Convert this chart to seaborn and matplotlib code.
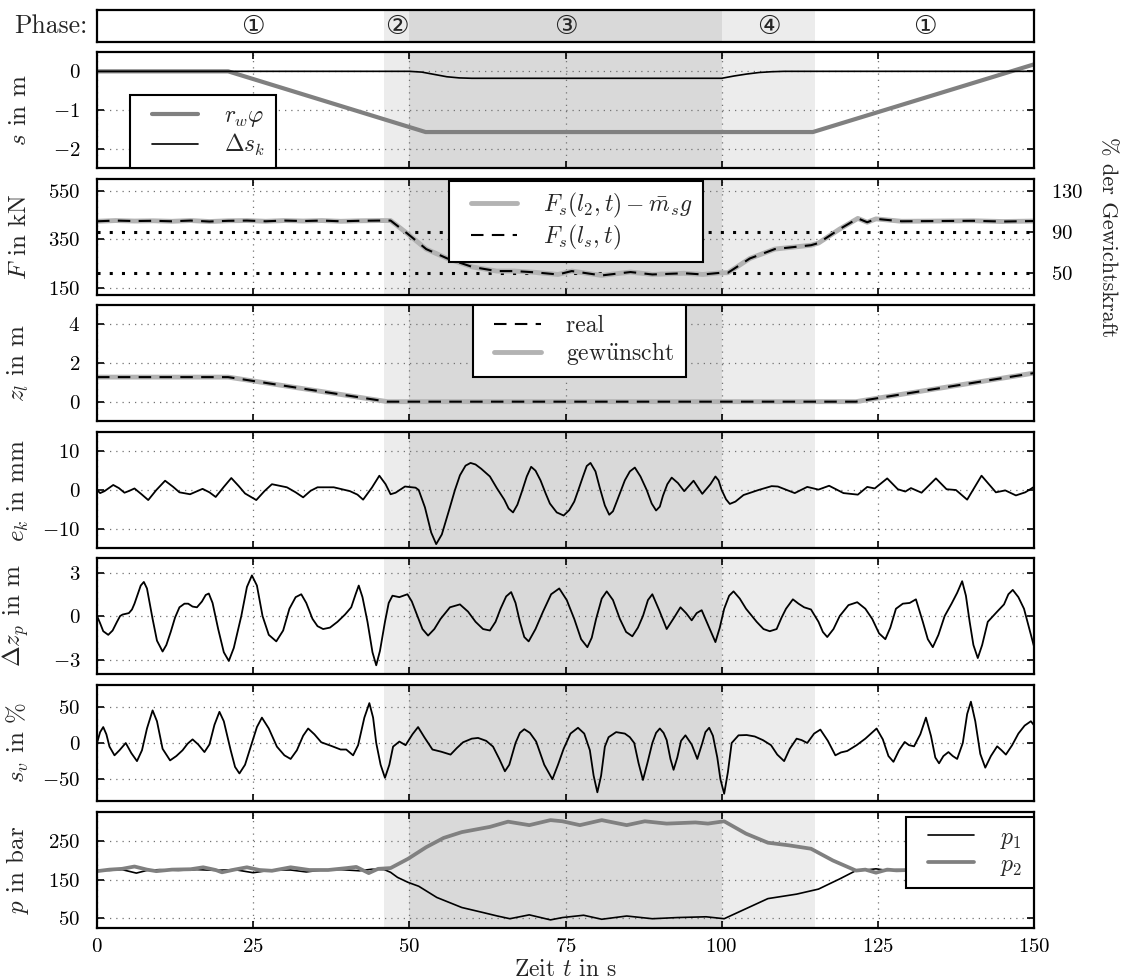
import numpy as np
import matplotlib
matplotlib.use('Agg')
import matplotlib.pyplot as plt
import seaborn as sns
from matplotlib.lines import Line2D
from matplotlib.legend_handler import HandlerLine2D

# ── DATA ────────────────────────────────────────────────────────────────────
phase_bounds = [0, 46, 50, 100, 115, 150]
phase_shades = ['white', '#ececec', '#d9d9d9', '#ececec', 'white']
phase_labels = ['①', '②', '③', '④', '①']
phase_label_t = [25, 48, 75, 107.5, 132.5]

# s panel
rw_t = [0, 21, 52.6, 114.6, 150]
rw_v = [0, 0, -1.57, -1.57, 0.18]
dsk_t = [0, 50, 52, 54, 56, 58, 60, 100, 102, 104, 106, 108, 110, 150]
dsk_v = [0, 0, -0.02, -0.08, -0.14, -0.17, -0.18, -0.18, -0.12, -0.07, -0.03, -0.01, 0, 0]

# F panel
F_t = [0, 3, 6, 9, 12, 15, 18, 21, 24, 27, 30, 33, 36, 39, 42, 45, 47, 49.8, 52.7, 56.1,
       60.1, 64, 66.8, 70, 73.8, 76, 80.8, 85.4, 88.9, 94, 97, 99.9, 101, 104.5, 108.5,
       114.3, 115.5, 118.9, 121.8, 123.3, 124.7, 128.8, 134.5, 140.3, 145, 150]
F_v = [425, 428, 426, 427, 425, 428, 424, 427, 428, 425, 428, 426, 428, 425, 427, 428, 428,
       372, 310, 271, 236, 219, 219, 214, 205, 219, 201, 215, 205, 210, 205, 212, 212, 271,
       310, 326, 335, 393, 437, 421, 435, 425, 426, 427, 424, 426]
W = 423.0                 # weight force in kN (100 %)
weight_levels = [90, 50]  # dotted reference levels in %

# z_l panel
z_t = [0, 21, 46.5, 121.5, 150]
z_v = [1.27, 1.27, 0, 0, 1.48]

# e_k panel
ek_t = [0, 0.5, 1.2, 2.6, 3.5, 4.4, 5.2, 6.0, 7.2, 8.2, 9.5, 10.9, 12.2, 13.2, 14.9, 16.9,
        18.0, 19.0, 20.3, 21.5, 22.7, 23.7, 25.5, 26.8, 28.0, 30.4, 31.8, 33.0, 34.2, 35.3,
        37.9, 40.5, 41.7, 42.6, 44.0, 45.2, 46.2, 47.0, 47.8, 49.3, 51.0, 51.5, 52.5, 53.5,
        54.3, 55.2, 56.4, 57.3, 58.1, 59.0, 59.8, 60.6, 61.5, 62.9, 64.0, 65.2, 65.9, 66.6,
        67.3, 68.0, 68.8, 69.5, 70.2, 71.0, 71.8, 72.5, 73.6, 74.7, 75.6, 76.4, 77.1, 77.8,
        78.4, 79.0, 79.8, 80.5, 81.3, 82.0, 82.6, 83.2, 84.5, 85.3, 86.1, 87.0, 88.0, 88.8,
        89.5, 90.1, 90.6, 91.3, 92.0, 93.0, 94.0, 95.5, 96.9, 98.2, 99.0, 99.5, 100.0, 100.7,
        101.3, 102.2, 103.5, 105.9, 108.0, 109.0, 111.7, 113.7, 115.5, 117.2,
        119.5, 121.8, 123.3, 124.5, 126.5, 128.2, 129.4, 130.3, 132.0, 134.3, 136.0, 137.5,
        139.3, 141.6, 143.9, 145.4, 147.1, 148.6, 150]
ek_v = [0.0, -0.8, -0.3, 1.3, 0.5, -0.7, -0.2, 0.4, -1.2, -2.6, 0.0, 2.4, 0.8, -0.6, -1.1, 0.3,
        -0.6, -1.8, 0.8, 3.1, 1.0, -0.9, -2.6, -0.3, 1.5, 0.7, -0.6, -1.9, -0.2, 0.7,
        0.7, -0.3, -1.2, -2.5, 0.6, 3.7, 1.5, -1.1, -0.7, 0.9, 0.6, 0.0, -4.5, -11.0,
        -14.0, -11.5, -5.0, 0.0, 3.8, 6.3, 7.0, 6.6, 5.5, 3.5, 0.5, -2.5, -4.8, -5.8,
        -3.8, -0.5, 3.5, 6.0, 5.0, 2.5, -0.8, -3.5, -5.8, -6.6, -5.2, -3.0, 0.2, 3.5,
        6.2, 7.0, 4.8, 0.5, -4.0, -6.4, -5.5, -3.0, 2.5, 4.8, 5.8, 3.5, 0.0, -3.5,
        -5.3, -4.3, -1.5, 1.5, 3.2, 1.8, -0.3, 2.4, -1.0, 1.5, 3.5, 2.5, 0.0, -2.4,
        -3.6, -3.0, -1.3, 0.0, 1.0, 0.9, -0.8, 0.8, 0.1, 1.1,
        -0.8, -1.2, 0.8, 0.4, 3.0, 0.2, -0.4, 0.5, -0.7, 3.0, 0.2, 0.0,
        -2.5, 3.7, -0.6, -0.1, -1.4, -0.6, 0.8]

# delta z_p panel
dzp_t = [0, 0.5, 1.0, 1.8, 2.5, 3.2, 3.7, 4.1, 5.1, 5.6, 6.0, 6.6, 7.0, 7.5, 8.0, 8.9, 9.6,
         10.5, 11.1, 11.8, 12.5, 13.2, 14.0, 14.6, 15.3, 16.0, 16.8, 17.4, 17.9, 18.5, 19.4,
         20.3, 21.1, 21.9, 23.1, 24.0, 24.8, 25.6, 26.5, 27.5, 28.7, 29.8, 30.8, 31.8, 32.7,
         33.5, 34.5, 35.3, 36.2, 37.3, 38.5, 39.7, 40.7, 41.4, 41.9, 42.5, 43.3, 44.1, 44.7,
         45.3, 46.1, 46.7, 47.3, 48.4, 49.7, 50.4, 51.3, 52.1, 53.0, 54.0, 55.0, 56.5, 58.1,
         59.4, 60.6, 61.8, 62.9, 63.8, 64.6, 65.5, 66.3, 67.0, 67.7, 68.4, 69.1, 70.2, 71.4,
         72.7, 74.0, 75.2, 76.4, 77.5, 78.5, 79.2, 79.9, 80.8, 81.6, 82.6, 83.7, 84.7, 85.7,
         86.6, 87.4, 88.2, 88.9, 90.0, 91.2, 92.4, 93.4, 94.3, 95.2, 96.0, 96.8, 97.9, 99.0,
         99.7, 100.4, 101.2, 101.9, 102.9, 103.9, 105.6, 106.7, 107.7, 108.8, 109.6, 110.3,
         111.4, 112.3, 113.2, 114.3, 115.5, 116.2, 116.9, 117.9, 118.9, 120.3, 121.7, 123.0,
         124.1, 125.2, 126.2, 127.0, 127.9, 129.0, 130.1, 131.1, 132.2, 133.0, 133.8, 134.7,
         135.7, 136.8, 137.7, 138.5, 139.1, 139.7, 140.3, 141.0, 141.7, 142.6, 144.1, 145.2,
         145.9, 146.6, 147.5, 148.4, 149.2, 150]
dzp_v = [0.0, -0.5, -1.05, -1.3, -1.0, -0.4, 0.0, 0.1, 0.2, 0.45, 0.85, 1.6, 2.1, 2.35, 1.9,
         -0.2, -1.7, -2.45, -2.0, -1.1, -0.1, 0.6, 0.85, 0.85, 0.65, 0.6, 1.0, 1.45, 1.55, 0.9,
         -0.9, -2.5, -3.1, -2.2, 0.0, 2.0, 2.8, 2.1, 0.0, -1.3, -1.75, -1.0, 0.5, 1.3, 1.5,
         0.9, -0.2, -0.7, -0.9, -0.8, -0.4, 0.1, 0.6, 1.5, 2.1, 1.3, -0.4, -2.5, -3.4,
         -2.4, -0.4, 0.9, 1.4, 1.3, 1.5, 1.0, 0.0, -0.9, -1.35, -0.9, -0.2, 0.6, 0.8,
         0.3, -0.4, -0.9, -1.0, -0.4, 0.5, 1.35, 1.65, 0.9, -0.4, -1.45, -1.75, -0.9, 0.3,
         1.5, 1.9, 1.1, -0.2, -1.6, -2.15, -1.5, -0.2, 1.2, 1.7, 1.1, -0.2, -1.1, -1.4,
         -0.8, 0.0, 1.1, 1.5, 0.4, -0.9, -0.1, 0.6, 0.2, -0.3, 0.2, 0.4, -0.7, -1.8,
         -0.8, 0.5, 1.4, 1.7, 1.2, 0.5, -0.4, -0.9, -1.05, -0.9, -0.1, 0.5,
         1.15, 0.85, 0.6, 0.45, -0.4, -1.1, -1.45, -0.9, 0.0, 0.75, 0.95, 0.5,
         -0.2, -1.2, -1.6, -0.8, 0.5, 0.85, 0.9, 1.15, -0.4, -1.6, -2.15, -1.3,
         0.0, 0.85, 1.6, 2.4, 1.4, -0.4, -2.0, -2.9, -2.0, -0.4, 0.3, 0.8,
         1.5, 1.8, 1.3, 0.5, -0.8, -2.1]

# s_v panel
sv_t = [0, 0.5, 1.0, 1.5, 2.0, 2.8, 3.6, 4.6, 5.5, 6.4, 7.2, 8.0, 8.9, 9.6, 10.5, 11.7, 12.7,
        13.7, 14.5, 15.3, 16.2, 17.2, 18.0, 18.8, 19.6, 20.3, 21.4, 22.1, 22.8, 23.7, 24.8,
        25.6, 26.4, 27.5, 28.8, 30.0, 31.0, 32.0, 33.0, 33.8, 34.8, 35.9, 37.5, 39.0, 39.9,
        41.0, 41.8, 42.8, 43.6, 44.2, 44.7, 45.4, 46.1, 46.8, 47.4, 48.4, 49.4, 50.5, 51.4,
        52.4, 53.7, 55.1, 56.6, 57.6, 58.6, 60.0, 61.0, 62.3, 63.4, 64.4, 65.3, 66.0, 67.0,
        67.7, 68.4, 69.3, 70.3, 71.6, 72.9, 73.8, 74.7, 75.8, 77.0, 78.0, 78.9, 79.5, 80.1,
        80.7, 81.3, 81.9, 83.1, 84.5, 85.3, 86.0, 86.7, 87.4, 88.1, 88.9, 89.5, 90.1, 90.7,
        91.2, 91.8, 92.3, 92.9, 93.5, 94.2, 95.2, 96.1, 96.9, 97.4, 98.0, 98.6, 99.3, 99.8,
        100.4, 101.0, 101.6, 102.7, 104.0, 105.3, 106.6, 107.9, 108.9, 110.0, 110.9, 112.0,
        112.8, 113.7, 114.8, 115.8, 117.0, 118.2, 119.1, 120.1, 121.6, 123.0, 124.8, 125.8,
        126.7, 127.5, 128.4, 129.3, 130.0, 130.8, 131.8, 132.7, 133.5, 134.2, 134.8, 135.5,
        136.3, 137.0, 137.7, 138.6, 139.3, 139.9, 140.6, 141.4, 142.2, 143.1, 144.1, 144.8,
        145.5, 146.5, 147.5, 148.5, 149.5, 150]
sv_v = [0, 15, 22, 12, -5, -17, -10, 0, -14, -25, -10, 20, 45, 30, -8, -24, -18,
        -10, -1, 5, -2, -12.5, -2, 25, 43, 30, -10, -33, -42, -30, 0,
        22, 35, 20, -5, -17, -22, -10, 10, 20, 12, 1, -4, -9, -9,
        -17, -3, 35, 55, 35, 0, -30, -48, -30, -5, 2, -3, 12, 22,
        8, -9, -12, -16, -7, 1, 6, 7, 3, -5, -22, -39, -30, 0,
        14, 19, 14, 2, -30, -50, -30, -8, 13, 21, 13, -10, -45, -68,
        -45, -5, 8, 15, 13, 8, 0, -28, -51, -28, 0, 14, 20, 14,
        4, -22, -37, -20, 3, 10.6, -2, -22, 0, 15, 21, 10, -20, -50,
        -70, -40, 0, 10.6, 11, 9, 4, -3, -16, -25, -8, 6,
        4, 0, 13, 18.5, 3, -17, -13, -11, -3, 6, 20, 5,
        -18, -26, -10, 1.4, -3, -4.6, 12, 35, 10, -20, -28, -18,
        -12.5, -18, -22, 0, 40, 57, 30, -15, -34, -18, -4.6, -10,
        -16, -3, 13, 24, 30, 24.5]

# p panel
p1_t = [0, 2, 4, 6.3, 8, 10, 13, 16, 19, 22, 25, 28, 31, 33.5, 36, 39, 42, 44, 46, 47, 48.1,
        49.8, 51.5, 54.4, 58.4, 61.8, 64.1, 66.1, 69.2, 72.6, 74.5, 77.9, 80.8, 84.8, 88.9,
        92.9, 97.5, 100.4, 103.9, 107.4, 112, 115.5, 118.9, 121.5, 123, 124.7, 126.5, 128,
        132, 136, 140, 145, 150]
p1_v = [175, 174, 176, 167, 174, 176, 174, 176, 174, 176, 168, 175, 175, 170, 175, 176, 173,
        177, 176, 169, 156, 143, 133, 104, 78, 65, 56, 49, 59, 46, 52, 58, 47.6, 56, 49,
        52, 54, 49, 75, 101, 112.6, 125.6, 152, 173.5, 175, 178, 174, 176,
        175, 176, 174, 176, 175]
p2_t = [0, 2, 4, 6, 8, 9.5, 12, 15, 17, 19, 20, 22, 24, 26, 28, 31, 34, 37, 40, 41.5, 43.5,
        45, 47, 49.8, 52.7, 55.5, 58.4, 62.9, 65.8, 69.2, 72.6, 74.5, 77.3, 80.8, 84.8, 87.7,
        91.2, 95.8, 97.8, 100.4, 103.9, 107.4, 110.8, 114.3, 117.8, 121.5, 123, 124.7, 126.5,
        128, 132, 136, 140, 145, 150]
p2_v = [172, 176, 178, 184, 176, 172, 176, 177, 182, 175, 169, 176, 182, 175, 173, 182, 175,
        175, 180, 183, 167, 178, 180, 204, 234, 258, 273, 286.5, 300, 291, 304, 301, 291,
        304, 291, 301, 295, 298, 295, 301, 269, 245.6, 238.7, 230, 199.6, 173.5, 176, 168,
        176, 174, 176, 175, 176, 174, 175]

X_TICKS = [0, 25, 50, 75, 100, 125, 150]

# ── STYLE ───────────────────────────────────────────────────────────────────
sns.set_theme(style='white')
plt.rcParams.update({
    'font.family': ['cmr10', 'DejaVu Serif', 'DejaVu Sans'],
    'mathtext.fontset': 'cm',
    'axes.formatter.use_mathtext': True,
    'font.size': 17,
    'axes.labelsize': 18,
    'xtick.labelsize': 15,
    'ytick.labelsize': 15,
    'legend.fontsize': 17,
    'axes.linewidth': 1.6,
    'axes.edgecolor': 'black',
    'xtick.direction': 'in',
    'ytick.direction': 'in',
    'xtick.top': True,
    'ytick.right': True,
    'xtick.bottom': True,
    'ytick.left': True,
    'xtick.major.size': 5,
    'ytick.major.size': 5,
    'xtick.major.width': 1.2,
    'ytick.major.width': 1.2,
    'xtick.color': 'black',
    'ytick.color': 'black',
    'xtick.major.pad': 7,
    'ytick.major.pad': 12,
    'axes.unicode_minus': True,
})

fig = plt.figure(figsize=(11.26, 9.8), dpi=100)
L, Wd = 97 / 1126, 937 / 1126


class InsetLine(HandlerLine2D):
    # legend line starts a bit inside its handle box -> wider left margin
    def get_xdata(self, legend, xdescent, ydescent, width, height, fontsize):
        x0 = -xdescent + 0.5 * fontsize
        x1 = -xdescent + width
        return np.array([x0, x1]), np.array([(x0 + x1) / 2])


def rect(top, h=116):
    return [L, 1 - (top + h) / 980, Wd, h / 980]


def shade(ax):
    for a, b, c in zip(phase_bounds[:-1], phase_bounds[1:], phase_shades):
        if c != 'white':
            ax.axvspan(a, b, color=c, lw=0, zorder=0)


def style(ax, ylim, yticks, ylabel, last=False):
    ax.set_xlim(0, 150)
    ax.set_ylim(*ylim)
    ax.set_yticks(yticks)
    ax.set_xticks(X_TICKS)
    ax.grid(True, color='0.45', ls=(0, (1, 4)), lw=0.9)
    ax.set_axisbelow('line')
    ax.set_ylabel(ylabel)
    ax.yaxis.set_label_coords(-0.07, 0.5)
    if not last:
        ax.tick_params(labelbottom=False)
    for s in ax.spines.values():
        s.set_visible(True)
        s.set_color('black')
        s.set_linewidth(1.6)


def legend(ax, handles, labels, **kw):
    labels = [lab + ' ' for lab in labels]
    leg = ax.legend(handles, labels, frameon=True, fancybox=False, framealpha=1,
                    edgecolor='black', handlelength=2.45, borderaxespad=0,
                    labelspacing=0.12, handletextpad=1.1, borderpad=0.42,
                    handler_map={Line2D: InsetLine()}, **kw)
    leg.get_frame().set_linewidth(1.5)
    leg.set_zorder(10)
    return leg


def line(ax, t, v, **kw):
    sns.lineplot(x=t, y=v, ax=ax, sort=False, estimator=None, **kw)
    return ax.lines[-1]


# ── PHASE BAR ───────────────────────────────────────────────────────────────
axP = fig.add_axes(rect(10, 32))
shade(axP)
axP.set_xlim(0, 150)
axP.set_ylim(0, 1)
axP.set_xticks([])
axP.set_yticks([])
for s in axP.spines.values():
    s.set_visible(True)
    s.set_color('black')
    s.set_linewidth(1.6)
for tx, lab in zip(phase_label_t, phase_labels):
    axP.text(tx, 0.5, lab, ha='center', va='center', fontsize=19,
             family=['DejaVu Serif', 'DejaVu Sans'])
axP.text(-0.01, 0.5, 'Phase:', transform=axP.transAxes, ha='right', va='center', fontsize=18.5)

tops = [52, 179, 305, 432, 558, 685, 812]
axes = [fig.add_axes(rect(t)) for t in tops]
for ax in axes:
    shade(ax)

# s
ax = axes[0]
h1 = line(ax, rw_t, rw_v, color='#808080', lw=3.0)
h2 = line(ax, dsk_t, dsk_v, color='black', lw=1.2)
style(ax, (-2.5, 0.5), [0, -1, -2], r'$s$ in m')
legend(ax, [h1, h2], [r'$r_w\varphi$', r'$\Delta s_k$'], loc='lower left',
       bbox_to_anchor=(0.035, 0.0))

# F
ax = axes[1]
for lvl in weight_levels:
    ax.axhline(lvl / 100 * W, color='black', ls=(0, (1, 3)), lw=2.2, zorder=1.8)
h1 = line(ax, F_t, F_v, color='#b3b3b3', lw=3.5)
h2 = line(ax, F_t, F_v, color='black', lw=1.5, linestyle=(0, (6, 4)))
style(ax, (120, 600), [150, 350, 550], r'$F$ in kN')
legend(ax, [h1, h2], [r'$F_s(l_2,t)-\bar{m}_s g$', r'$F_s(l_s,t)$'], loc='upper left',
       bbox_to_anchor=(0.376, 0.985))
ax.tick_params(right=False)
axT = ax.twinx()
axT.set_ylim(120 / W * 100, 600 / W * 100)
axT.set_yticks([50, 90, 130])
axT.tick_params(direction='in', right=True, left=False, length=5, width=1.2, pad=12)
axT.grid(False)
axT.set_ylabel('% der Gewichtskraft', rotation=270, fontsize=16)
axT.yaxis.set_label_coords(1.089, 0.5)
for s in axT.spines.values():
    s.set_visible(False)

# z_l
ax = axes[2]
h2 = line(ax, z_t, z_v, color='#b3b3b3', lw=3.5)
h1 = line(ax, z_t, z_v, color='black', lw=1.5, linestyle=(0, (6, 4)))
style(ax, (-1, 5), [0, 2, 4], r'$z_l$ in m')
legend(ax, [h1, h2], ['real', r'gew$\mathrm{\ddot{u}}$nscht'], loc='upper left',
       bbox_to_anchor=(0.401, 1.0))

# e_k
ax = axes[3]
line(ax, ek_t, ek_v, color='black', lw=1.3)
style(ax, (-15, 15), [-10, 0, 10], r'$e_k$ in mm')

# delta z_p
ax = axes[4]
line(ax, dzp_t, dzp_v, color='black', lw=1.3)
style(ax, (-4, 4), [-3, 0, 3], r'$\Delta z_p$ in m')

# s_v
ax = axes[5]
line(ax, sv_t, sv_v, color='black', lw=1.3)
style(ax, (-80, 80), [-50, 0, 50], r'$s_v$ in %')

# p
ax = axes[6]
h1 = line(ax, p1_t, p1_v, color='black', lw=1.2)
h2 = line(ax, p2_t, p2_v, color='#808080', lw=2.7)
style(ax, (25, 325), [50, 150, 250], r'$p$ in bar', last=True)
legend(ax, [h1, h2], [r'$p_1$', r'$p_2$'], loc='upper right', bbox_to_anchor=(1.0, 0.96))
ax.set_xlabel(r'Zeit $t$ in s', labelpad=2, fontsize=17)

fig.savefig('out.png', dpi=100)
